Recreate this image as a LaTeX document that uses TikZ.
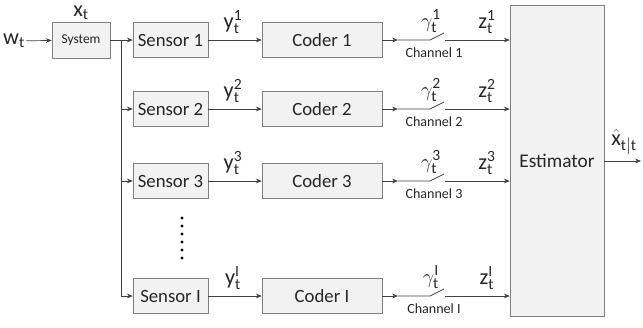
\documentclass[tikz,border=0pt]{standalone}
\usepackage{fontspec}
\setmainfont{Carlito}
\usepackage{tikz}
\usetikzlibrary{positioning,arrows.meta}
\definecolor{boxgray}{HTML}{F2F2F2}
\definecolor{edgegray}{HTML}{808080}
\definecolor{linegray}{HTML}{404040}

\begin{document}
\begin{tikzpicture}[
    x=0.03cm, y=-0.03cm,
    block/.style={rectangle, draw=edgegray, fill=boxgray, minimum height=1.05cm,
                  inner sep=0pt, text=black!85, font=\fontsize{16}{19}\selectfont},
    arrow/.style={-{Stealth[length=5pt,width=4pt]}, draw=linegray, line width=0.6pt},
    wire/.style={draw=linegray, line width=0.6pt},
    label/.style={inner sep=1pt, text=black!85, font=\fontsize{19}{22}\selectfont},
    chan/.style={inner sep=1pt, text=black!85, font=\fontsize{12}{14}\selectfont}
]
  \useasboundingbox (0,0) rectangle (643,327);

  % System and input
  \node[block, minimum width=1.74cm, minimum height=1.08cm,
        font=\fontsize{11.5}{14}\selectfont] (sys) at (81,40) {System};
  \node[label] (w) at (14,41) {$\mathrm{w}_{\mathrm{t}}$};
  \node[label] (x) at (81,13) {$\mathrm{x}_{\mathrm{t}}$};
  \draw[arrow] (w) -- (sys);

  % Estimator and output
  \node[block, minimum width=2.82cm, minimum height=9.33cm,
        font=\fontsize{16.5}{19}\selectfont] (est) at (557,161) {Estimator};
  \coordinate (out) at (641,161);
  \node[label] (xhat) at (624,142) {$\hat{\mathrm{x}}_{\mathrm{t|t}}$};
  \draw[arrow] (est) -- (out);

  % Sensor / coder / channel rows
  \foreach \i/\r/\yy in {1/1/40, 2/2/109, 3/3/181, 4/I/296} {
    \node[block, minimum width=2.25cm] (sen\i) at (170.5,\yy) {Sensor \r};
    \node[block, minimum width=3.6cm] (cod\i) at (322,\yy) {Coder \r};
    \coordinate (tip\i) at (398,\yy);
    \coordinate (swa\i) at (430,\yy);
    \coordinate (swb\i) at (445,\yy);
    \node[label] (y\i) at (233,\yy-18) {$\mathrm{y}_{\mathrm{t}}^{\mathrm{\r}}$};
    \node[label] (g\i) at (431,\yy-19) {$\gamma_{\mathrm{t}}^{\mathrm{\r}}$};
    \node[label] (z\i) at (487,\yy-18) {$\mathrm{z}_{\mathrm{t}}^{\mathrm{\r}}$};
    \node[chan] (ch\i) at (434,\yy+13) {Channel \r};
    \draw[arrow] (sen\i) -- (cod\i);
    \draw[arrow] (cod\i) -- (tip\i);
    \draw[wire] (tip\i) -- (swa\i) -- ++(14,-7);
    \draw[arrow] (swb\i) -- (swb\i -| est.west);
  }

  % Branches to the sensors
  \coordinate (br) at (121,40);
  \draw[arrow] (sys) -- (sen1);
  \draw[wire] (br) -- (br |- sen4);
  \foreach \i in {2,3,4}
    \draw[arrow] (br |- sen\i) -- (sen\i);

  % Dots
  \foreach \k in {0,...,5}
    \fill[black] (182,218+8*\k) circle (1.3pt);
\end{tikzpicture}
\end{document}
